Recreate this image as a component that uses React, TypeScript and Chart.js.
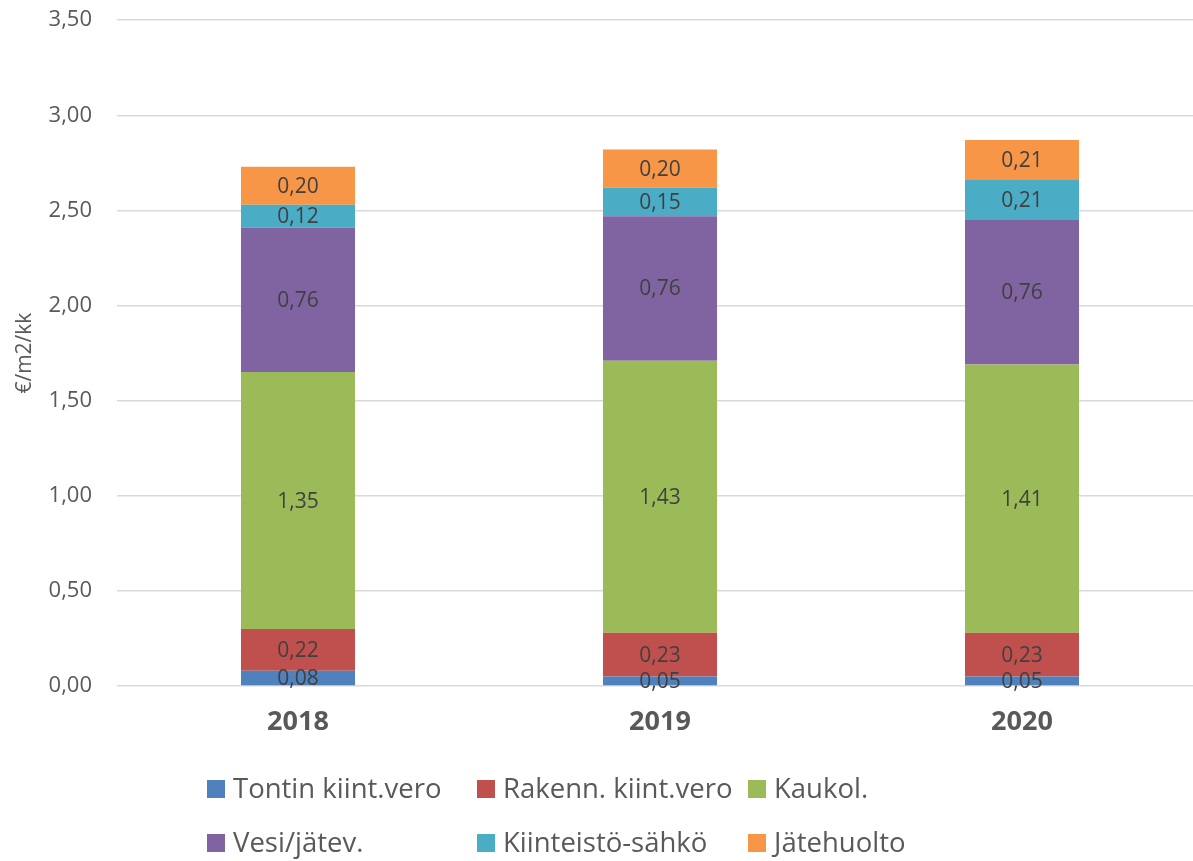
import React, { useEffect, useRef } from "react";
import { Chart, registerables } from "chart.js";

Chart.register(...registerables);

const years = ["2018", "2019", "2020"];
const seriesNames = [
  "Tontin kiint.vero",
  "Rakenn. kiint.vero",
  "Kaukol.",
  "Vesi/jätev.",
  "Kiinteistö-sähkö",
  "Jätehuolto",
];
const tontin = [0.08, 0.05, 0.05];
const rakenn = [0.22, 0.23, 0.23];
const kaukol = [1.35, 1.43, 1.41];
const vesi = [0.76, 0.76, 0.76];
const sahko = [0.12, 0.15, 0.21];
const jate = [0.2, 0.2, 0.21];
const colors = ["#4f81bd", "#c0504d", "#9bbb59", "#8064a2", "#4bacc6", "#f79646"];

const FONT = "'Open Sans', sans-serif";
const SHIFT = 18;
const fmt = (v: number) => v.toFixed(2).replace(".", ",");

const labelsPlugin = {
  id: "segLabels",
  afterDatasetsDraw(chart: any) {
    const ctx = chart.ctx;
    ctx.save();
    ctx.fillStyle = "#404040";
    ctx.font = `21px ${FONT}`;
    ctx.textAlign = "center";
    ctx.textBaseline = "middle";
    chart.data.datasets.forEach((ds: any, i: number) => {
      const meta = chart.getDatasetMeta(i);
      meta.data.forEach((bar: any, j: number) => {
        const y = (bar.y + bar.base) / 2;
        ctx.fillText(fmt(ds.data[j]), bar.x, y + 1);
      });
    });
    ctx.restore();
  },
};

const legendPlugin = {
  id: "gridLegend",
  afterDraw(chart: any) {
    const ctx = chart.ctx;
    ctx.save();
    const cols = [207, 477, 748];
    const rows = [789 + SHIFT, 843 + SHIFT];
    ctx.font = `27.5px ${FONT}`;
    ctx.textBaseline = "middle";
    ctx.textAlign = "left";
    chart.data.datasets.forEach((ds: any, i: number) => {
      const x = cols[i % 3];
      const y = rows[Math.floor(i / 3)];
      ctx.fillStyle = ds.backgroundColor;
      ctx.fillRect(x, y - 9, 18, 18);
      ctx.fillStyle = "#595959";
      ctx.fillText(ds.label, x + 26, y + 1);
    });
    ctx.restore();
  },
};

export default function App() {
  const ref = useRef<HTMLCanvasElement>(null);
  useEffect(() => {
    document.body.style.margin = "0";
    const values = [tontin, rakenn, kaukol, vesi, sahko, jate];
    const chart = new Chart(ref.current!, {
      type: "bar",
      data: {
        labels: years,
        datasets: seriesNames.map((name, i) => ({
          label: name,
          data: values[i],
          backgroundColor: colors[i],
          borderWidth: 0,
          categoryPercentage: 1,
          barPercentage: 0.315,
        })),
      },
      options: {
        animation: false,
        responsive: false,
        maintainAspectRatio: false,
        layout: { padding: { top: 10, bottom: 100, left: 0, right: 0 } },
        plugins: {
          legend: { display: false },
          tooltip: { enabled: false },
        },
        scales: {
          x: {
            stacked: true,
            grid: { display: false, drawTicks: false },
            border: { display: false },
            ticks: {
              color: "#595959",
              font: { family: FONT, size: 27, weight: "bold" },
              padding: 20,
            },
            afterFit(scale: any) {
              scale.height = 75;
            },
          },
          y: {
            stacked: true,
            min: 0,
            max: 3.5,
            ticks: {
              stepSize: 0.5,
              color: "#595959",
              font: { family: FONT, size: 22 },
              padding: 25,
              callback: (v: any) => fmt(Number(v)),
            },
            grid: { color: "#d9d9d9", lineWidth: 1.5, drawTicks: false },
            border: { display: false },
            title: {
              display: true,
              text: "€/m2/kk",
              color: "#595959",
              font: { family: FONT, size: 21 },
              padding: { top: 12, bottom: 0 },
            },
            afterFit(scale: any) {
              scale.width = 117;
            },
          },
        },
      },
      plugins: [labelsPlugin, legendPlugin],
    });
    return () => chart.destroy();
  }, []);
  return (
    <div style={{ position: "fixed", left: 0, top: 0, width: 1193, height: 861, overflow: "hidden", background: "#fff" }}>
      <canvas
        ref={ref}
        width={1203}
        height={861 + SHIFT}
        style={{ position: "absolute", left: 0, top: -SHIFT, display: "block", width: 1203, height: 861 + SHIFT }}
      />
    </div>
  );
}
